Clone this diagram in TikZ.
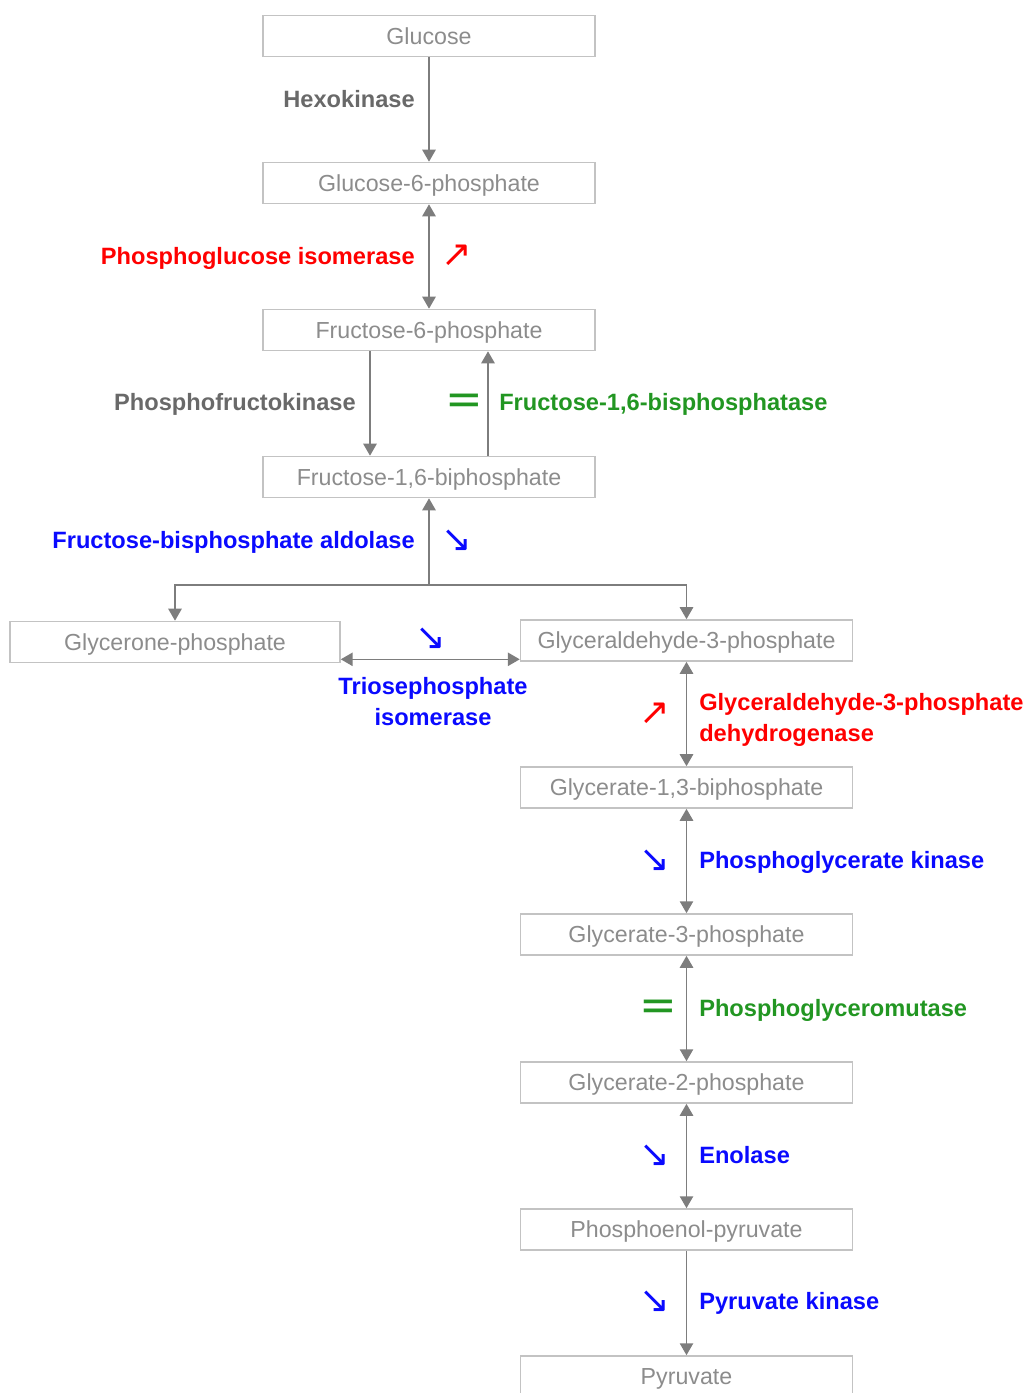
\documentclass[tikz,border=0pt]{standalone}
\usepackage{fontspec}
\setmainfont{Liberation Sans}
\newfontfamily\symfont{DejaVu Sans}
\usetikzlibrary{arrows.meta,calc}

\definecolor{boxline}{RGB}{195,195,195}
\definecolor{boxtext}{RGB}{140,140,140}
\definecolor{linkgray}{RGB}{125,125,125}
\definecolor{enzgray}{RGB}{105,105,105}
\definecolor{enzred}{RGB}{255,0,0}
\definecolor{enzblue}{RGB}{10,10,255}
\definecolor{enzgreen}{RGB}{34,150,34}

\begin{document}
\begin{tikzpicture}[x=0.025cm, y=-0.025cm,
  tip/.tip={Triangle[width=9.5pt,length=8.5pt]},
  metab/.style={draw=boxline, line width=1pt, minimum width=8.3cm, minimum height=1.03cm,
    inner sep=0pt, text height=11.9pt, text depth=0pt, text=boxtext, font=\fontsize{16.5}{20}\selectfont},
  link/.style={draw=linkgray, line width=1.1pt, -tip},
  back/.style={draw=linkgray, line width=1.1pt, tip-},
  both/.style={draw=linkgray, line width=1.1pt, tip-tip},
  enzyme/.style={font=\bfseries\fontsize{16.8}{21.5}\selectfont, inner sep=0pt},
  trend/.style={font=\symfont\fontsize{26}{26}\selectfont, inner sep=0pt},
  steady/.style={font=\symfont\fontsize{32}{32}\selectfont, inner sep=0pt, text=enzgreen}]
\useasboundingbox (0,0) rectangle (1031,1393);

% metabolites
\node[metab] (glc) at (429,36) {Glucose};
\node[metab] (g6p) at (429,183) {Glucose-6-phosphate};
\node[metab] (f6p) at (429,330) {Fructose-6-phosphate};
\node[metab] (f16bp) at (429,477) {Fructose-1,6-biphosphate};
\node[metab, minimum width=8.25cm] (dhap) at (175,642) {Glycerone-phosphate};
\node[metab] (ga3p) at (686.5,640.5) {Glyceraldehyde-3-phosphate};
\node[metab] (bpg) at (686.5,787.5) {Glycerate-1,3-biphosphate};
\node[metab] (pg3) at (686.5,934.5) {Glycerate-3-phosphate};
\node[metab] (pg2) at (686.5,1082.5) {Glycerate-2-phosphate};
\node[metab] (pep) at (686.5,1229.5) {Phosphoenol-pyruvate};
\node[metab] (pyr) at (686.5,1376.5) {Pyruvate};

% reactions
\draw[link] (glc) -- (g6p);
\draw[both] (g6p) -- (f6p);
\draw[link] ($(f6p.south)+(-59,0)$) -- ($(f16bp.north)+(-59,0)$);
\draw[link] ($(f16bp.north)+(59,0)$) -- ($(f6p.south)+(59,0)$);
\coordinate (split) at (429,585);
\draw[back] (f16bp) -- (split);
\draw[link] (split) -| (dhap.north);
\draw[link] (split) -| (ga3p.north);
\draw[both] ($(dhap.south east)+(0,-4)$) -- ($(ga3p.west |- dhap.south east)+(0,-4)$);
\draw[both] (ga3p) -- (bpg);
\draw[both] (bpg) -- (pg3);
\draw[both] (pg3) -- (pg2);
\draw[both] (pg2) -- (pep);
\draw[link] (pep) -- (pyr);

% enzymes
\node[enzyme, text=enzgray, anchor=base east] (hk) at (415,107.5) {Hexokinase};
\node[enzyme, text=enzred, anchor=base east] (pgi) at (415,264.5) {Phosphoglucose isomerase};
\node[trend, text=enzred] (pgi-up) at (457,256) {↗};
\node[enzyme, text=enzgray, anchor=base east] (pfk) at (356,410.5) {Phosphofructokinase};
\node[steady] (fbp-eq) at (464,404) {=};
\node[enzyme, text=enzgreen, anchor=base west] (fbp) at (499,410.5) {Fructose-1,6-bisphosphatase};
\node[enzyme, text=enzblue, anchor=base east] (ald) at (415,548.5) {Fructose-bisphosphate aldolase};
\node[trend, text=enzblue] (ald-down) at (457,541) {↘};
\node[trend, text=enzblue] (tpi-down) at (431,639) {↘};
\node[enzyme, text=enzblue, anchor=north, align=center] (tpi) at (433,677.5) {Triosephosphate\\isomerase};
\node[trend, text=enzred] (gapdh-up) at (655,714) {↗};
\node[enzyme, text=enzred, anchor=north west, align=left] (gapdh) at (699,693.5) {Glyceraldehyde-3-phosphate\\dehydrogenase};
\node[trend, text=enzblue] (pgk-down) at (655,861) {↘};
\node[enzyme, text=enzblue, anchor=base west] (pgk) at (699,868.5) {Phosphoglycerate kinase};
\node[steady] (pgm-eq) at (658,1010) {=};
\node[enzyme, text=enzgreen, anchor=base west] (pgm) at (699,1016.5) {Phosphoglyceromutase};
\node[trend, text=enzblue] (eno-down) at (655,1156) {↘};
\node[enzyme, text=enzblue, anchor=base west] (eno) at (699,1163.5) {Enolase};
\node[trend, text=enzblue] (pk-down) at (655,1302) {↘};
\node[enzyme, text=enzblue, anchor=base west] (pk) at (699,1309.5) {Pyruvate kinase};
\end{tikzpicture}
\end{document}
